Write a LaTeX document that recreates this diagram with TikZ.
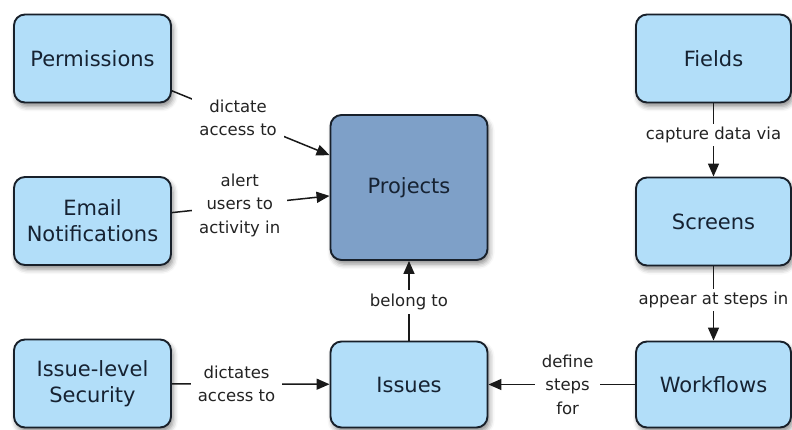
\documentclass[tikz,border=0pt]{standalone}
\usepackage{fontspec}
\setmainfont{DejaVu Sans}
\usetikzlibrary{arrows.meta,shadows.blur}
\definecolor{boxfill}{RGB}{178,222,249}
\definecolor{projfill}{RGB}{126,160,200}
\definecolor{boxline}{RGB}{24,32,42}
\definecolor{boxtext}{RGB}{22,34,50}
\definecolor{lbltext}{RGB}{35,35,35}
\tikzset{
  entity/.style={draw=boxline, line width=1.9pt, rounded corners=11pt, fill=boxfill,
    minimum width=157pt, minimum height=88pt, align=center, text=boxtext,
    font=\fontsize{21}{26}\selectfont,
    blur shadow={shadow xshift=2pt, shadow yshift=-4pt, shadow blur radius=5pt, shadow opacity=45}},
  conn/.style={draw=black!90, line width=1.5pt, -{Triangle[length=13pt,width=11pt]}},
  lbl/.style={fill=white, text=lbltext, align=center, inner sep=7pt,
    font=\fontsize{16.5}{23.5}\selectfont},
}
\begin{document}
\begin{tikzpicture}[x=1pt,y=-1pt]
\useasboundingbox (0,0) rectangle (792,430);
\node[entity] (perm) at (92.5,58.5) {Permissions};
\node[entity] (email) at (92.5,221) {Email\\Notifications};
\node[entity] (sec) at (92.5,383.5) {Issue-level\\Security};
\node[entity, fill=projfill, minimum height=145pt] (proj) at (409,187.5) {Projects};
\node[entity, minimum height=86pt] (issues) at (409,384.5) {Issues};
\node[entity, minimum width=155pt] (fields) at (713.5,58.5) {Fields};
\node[entity, minimum width=155pt] (screens) at (713.5,221.5) {Screens};
\node[entity, minimum width=155pt, minimum height=86pt] (wf) at (713.5,384.5) {Workflows};

\draw[conn] (perm) -- node[lbl, pos=0.42] (l1) {dictate\\access to} (proj);
\draw[conn] (email) -- node[lbl, pos=0.43] (l2) {alert\\users to\\activity in} (proj);
\draw[conn] (sec) -- node[lbl, pos=0.41] (l3) {dictates\\access to} (issues);
\draw[conn] (issues) -- node[lbl, pos=0.48, inner sep=4pt] (l4) {belong to} (proj);
\draw[conn] (fields) -- node[lbl, pos=0.43, inner sep=3pt] (l5) {capture data via} (screens);
\draw[conn] (screens) -- node[lbl, pos=0.45, inner sep=3pt] (l6) {appear at steps in} (wf);
\draw[conn] (wf) -- node[lbl, pos=0.46] (l7) {define\\steps\\for} (issues);
\end{tikzpicture}
\end{document}
